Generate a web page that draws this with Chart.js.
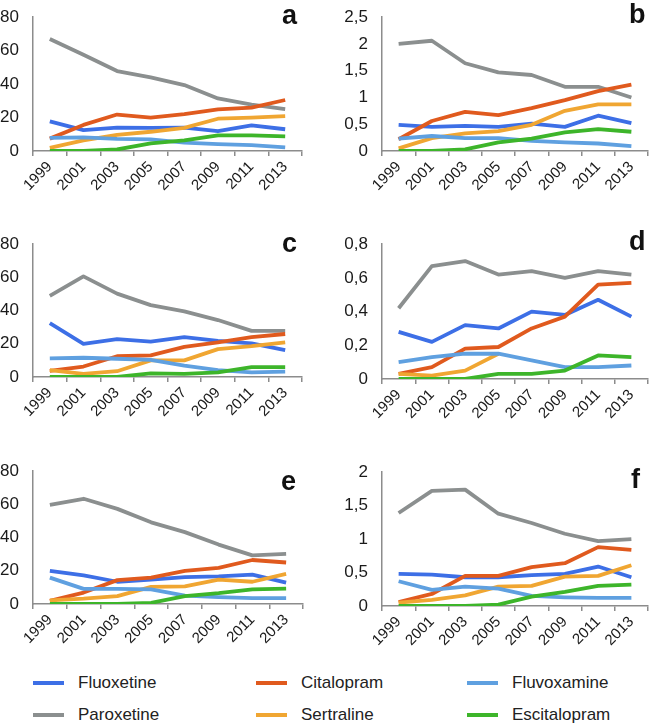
<!DOCTYPE html>
<html>
<head>
<meta charset="utf-8">
<script src="https://cdn.jsdelivr.net/npm/chart.js@4.4.1/dist/chart.umd.min.js"></script>
<style>
  html, body { margin: 0; padding: 0; background: #fff; }
  body { width: 649px; height: 725px; position: relative; overflow: hidden; font-family: "Liberation Sans", Arial, sans-serif; }
  .panel { position: absolute; }
  .letter { position: absolute; font-weight: bold; font-size: 27px; color: #111; line-height: 1; }
  .legend { position: absolute; left: 0; top: 0; font-size: 17px; color: #222; }
  .item { position: absolute; display: flex; align-items: center; }
  .swatch { width: 31px; height: 4px; margin-right: 14px; }
</style>
</head>
<body>
<div id="panels"></div>
<div class="legend" id="legend"></div>
<script>
// years shown on the x axis
const years = ['1999', '2001', '2003', '2005', '2007', '2009', '2011', '2013'];

// one row per panel (a, b, c, d, e, f)
const fluoxetine = [
    [17.7, 12.5, 14, 13.8, 14, 11.9, 15.3, 13],
    [0.49, 0.45, 0.47, 0.45, 0.51, 0.45, 0.66, 0.52],
    [32.5, 20, 22.8, 21.3, 24, 21.8, 20.3, 16.2],
    [0.28, 0.22, 0.32, 0.30, 0.40, 0.38, 0.47, 0.37],
    [20, 17.2, 13.4, 14.7, 16.2, 16.6, 17.7, 12.9],
    [0.48, 0.47, 0.43, 0.43, 0.46, 0.48, 0.59, 0.43]
];
const citalopram = [
    [7.4, 15.6, 21.8, 19.9, 22.1, 24.9, 25.9, 30.5],
    [0.22, 0.56, 0.73, 0.67, 0.80, 0.95, 1.12, 1.24],
    [3.7, 6.3, 12.5, 13, 18.1, 20.9, 24, 25.9],
    [0.03, 0.07, 0.18, 0.19, 0.30, 0.37, 0.56, 0.57],
    [1.9, 6.9, 14.4, 15.9, 20, 21.8, 26.5, 25],
    [0.06, 0.18, 0.45, 0.45, 0.58, 0.64, 0.88, 0.84]
];
const fluvoxamine = [
    [7.8, 8.2, 7.3, 6.9, 5, 4.1, 3.5, 2.2],
    [0.23, 0.28, 0.24, 0.24, 0.19, 0.16, 0.14, 0.09],
    [11.2, 11.6, 11, 10.3, 6.9, 4.1, 2.8, 3.2],
    [0.10, 0.13, 0.15, 0.15, 0.11, 0.07, 0.07, 0.08],
    [15.9, 9.1, 9.1, 8.8, 5, 4.1, 3.5, 3.5],
    [0.37, 0.24, 0.29, 0.26, 0.15, 0.13, 0.12, 0.12]
];
const paroxetine = [
    [67, 57.5, 47.8, 44, 39.4, 31.4, 27.7, 25],
    [2.0, 2.06, 1.64, 1.47, 1.42, 1.2, 1.2, 1.0],
    [48.9, 60.6, 50.2, 43.3, 39.5, 34.3, 27.8, 27.8],
    [0.42, 0.67, 0.70, 0.62, 0.64, 0.60, 0.64, 0.62],
    [59.7, 63.4, 57.3, 49.2, 43.3, 35.8, 29.3, 30.2],
    [1.39, 1.72, 1.74, 1.38, 1.24, 1.08, 0.97, 1.0]
];
const sertraline = [
    [1.9, 6.3, 9.7, 11.5, 13.8, 19.3, 19.9, 20.8],
    [0.05, 0.24, 0.33, 0.37, 0.49, 0.75, 0.87, 0.87],
    [4.1, 1.9, 3.5, 10, 10, 16.8, 18.6, 20.9],
    [0.03, 0.02, 0.05, 0.15, null, null, null, null],
    [2.2, 3.2, 4.7, 10.3, 10.6, 14.7, 13.4, 18.1],
    [0.05, 0.09, 0.16, 0.29, 0.30, 0.44, 0.45, 0.61]
];
const escitalopram = [
    [0, 0, 0.9, 4.5, 6.3, 9.3, 9.3, 8.7],
    [0, 0, 0.03, 0.16, 0.23, 0.35, 0.41, 0.36],
    [0, 0, 0, 2.2, 1.9, 2.8, 6, 6],
    [0, 0, 0, 0.03, 0.03, 0.05, 0.14, 0.13],
    [0, 0, 0, 0.7, 4.7, 6.5, 8.8, 9.3],
    [0, 0, 0, 0.02, 0.14, 0.21, 0.30, 0.32]
];

const panelLetters = ['a', 'b', 'c', 'd', 'e', 'f'];
const yMax = [80, 2.5, 80, 0.8, 80, 2];
const yStep = [20, 0.5, 20, 0.2, 20, 0.5];

const series = [
    { name: 'Fluoxetine', data: fluoxetine, color: '#3d6fe6' },
    { name: 'Citalopram', data: citalopram, color: '#e05a1e' },
    { name: 'Fluvoxamine', data: fluvoxamine, color: '#5fa0e0' },
    { name: 'Paroxetine', data: paroxetine, color: '#8b8f8f' },
    { name: 'Sertraline', data: sertraline, color: '#f0a632' },
    { name: 'Escitalopram', data: escitalopram, color: '#3db52a' }
];
// higher number = drawn underneath
const drawOrder = { Paroxetine: 6, Fluoxetine: 5, Citalopram: 4, Sertraline: 3, Fluvoxamine: 2, Escitalopram: 1 };

// plot area boxes: left, right, top, bottom (page pixels)
const boxes = [
    [33, 302, 7, 151], [382, 648, 7, 151],
    [33, 302, 234, 377], [382, 648, 234, 379],
    [33, 303, 461, 604], [382, 648, 462, 606]
];
const letterPos = [[282, 2], [629, 1], [282, 230], [629, 228], [281, 468], [631, 466]];

const padTop = 14;
const axisH = 62;

const container = document.getElementById('panels');

boxes.forEach(function(box, p) {
    const colLeft = p % 2 === 0 ? 0 : 325;
    const colWidth = p % 2 === 0 ? 320 : 324;
    const plotH = box[3] - box[2];
    const div = document.createElement('div');
    div.className = 'panel';
    div.style.left = colLeft + 'px';
    div.style.top = (box[2] - padTop) + 'px';
    const canvas = document.createElement('canvas');
    canvas.width = colWidth;
    canvas.height = padTop + plotH + axisH;
    canvas.style.width = colWidth + 'px';
    canvas.style.height = (padTop + plotH + axisH) + 'px';
    div.appendChild(canvas);
    container.appendChild(div);

    const lbl = document.createElement('div');
    lbl.className = 'letter';
    lbl.textContent = panelLetters[p];
    lbl.style.left = letterPos[p][0] + 'px';
    lbl.style.top = letterPos[p][1] + 'px';
    document.body.appendChild(lbl);

    const yWidth = box[0] - colLeft;
    const rightPad = colLeft + colWidth - box[1];

    new Chart(canvas.getContext('2d'), {
        type: 'line',
        data: {
            labels: years,
            datasets: series.map(function(s) {
                return {
                    label: s.name,
                    data: s.data[p],
                    borderColor: s.color,
                    backgroundColor: s.color,
                    borderWidth: 3.8,
                    borderJoinStyle: 'round',
                    pointRadius: 0,
                    tension: 0,
                    spanGaps: false,
                    order: drawOrder[s.name]
                };
            })
        },
        options: {
            responsive: false,
            animation: false,
            layout: { padding: { top: padTop, right: rightPad, left: 0, bottom: 0 } },
            plugins: { legend: { display: false }, tooltip: { enabled: false } },
            scales: {
                x: {
                    offset: true,
                    grid: { display: true, offset: true, drawOnChartArea: false, drawTicks: true, tickLength: 5, color: '#8c8c8c', lineWidth: 1.5 },
                    border: { color: '#8c8c8c', width: 1.5 },
                    ticks: {
                        minRotation: 45, maxRotation: 45, autoSkip: false, padding: 2,
                        color: '#1a1a1a', font: { size: 15, family: '"Liberation Sans", Arial, sans-serif' }
                    },
                    afterFit: function(scale) { scale.height = axisH; }
                },
                y: {
                    min: 0, max: yMax[p],
                    grid: { display: false, drawTicks: false },
                    border: { color: '#8c8c8c', width: 1.5 },
                    ticks: {
                        stepSize: yStep[p], padding: 14,
                        color: '#1a1a1a', font: { size: 17, family: '"Liberation Sans", Arial, sans-serif' },
                        callback: function(v) { return String(Math.round(v * 10) / 10).replace('.', ','); }
                    },
                    afterFit: function(scale) { scale.width = yWidth; }
                }
            }
        }
    });
});

// legend, three columns, two rows
const legend = document.getElementById('legend');
const legendX = [33, 256, 467];
const legendY = [683, 715];
series.forEach(function(s, i) {
    const item = document.createElement('div');
    item.className = 'item';
    item.style.left = legendX[i % 3] + 'px';
    item.style.top = (legendY[Math.floor(i / 3)] - 11) + 'px';
    item.style.height = '22px';
    const sw = document.createElement('span');
    sw.className = 'swatch';
    sw.style.background = s.color;
    const tx = document.createElement('span');
    tx.textContent = s.name;
    item.appendChild(sw);
    item.appendChild(tx);
    legend.appendChild(item);
});
</script>
</body>
</html>
